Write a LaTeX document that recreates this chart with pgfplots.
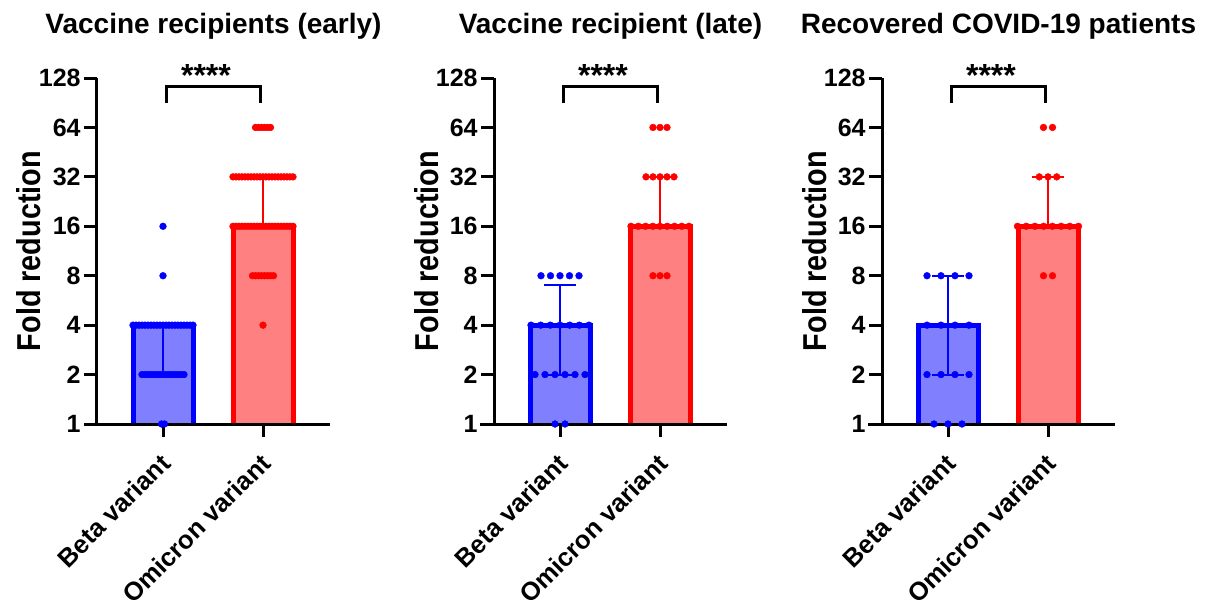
\documentclass[border=0pt]{standalone}
\usepackage{pgfplots}
\pgfplotsset{compat=1.18}
\usepackage{fontspec}
\setmainfont{Liberation Sans}
\definecolor{barblue}{RGB}{128,128,255}
\definecolor{barred}{RGB}{255,128,128}
\definecolor{dotblue}{RGB}{0,0,255}
\definecolor{dotred}{RGB}{255,0,0}
\pgfplotsset{
  foldpanel/.style={
    scale only axis, width=116.5pt, height=173pt,
    anchor=south west,
    xmin=-0.66, xmax=1.67,
    ymin=1, ymax=128,
    ytick={1,2,4,8,16,32,64,128},
    yticklabels={1,2,4,8,16,32,64,128},
    xtick={0,1}, xticklabels={Beta variant, Omicron variant},
    axis x line*=bottom, axis y line*=left,
    axis line style={line width=1.5pt, -},
    tick align=outside, major tick length=6.5pt,
    every tick/.style={line width=1.5pt, black},
    minor tick num=0,
    yticklabel style={font=\fontsize{12.5}{14}\selectfont\bfseries, inner sep=1.5pt},
    xticklabel style={font=\fontsize{12.8}{15}\selectfont\bfseries, xshift=-2pt, yshift=-6pt, rotate=45, anchor=north east, inner sep=1pt},
    ylabel={Fold reduction},
    every axis y label/.style={at={(axis description cs:0,0.5)}, xshift=-28pt, rotate=90, yscale=1.15, anchor=base, font=\fontsize{14.4}{16}\selectfont\bfseries},
    every axis title/.style={at={(axis description cs:0.5,1)}, anchor=base, yshift=22.5pt, font=\fontsize{14}{16}\selectfont\bfseries},
    clip=false,
  },
  bluebar/.style={fill=barblue, draw=dotblue, line width=2.5pt},
  redbar/.style={fill=barred, draw=dotred, line width=2.5pt},
  blueerr/.style={dotblue, line width=1pt},
  rederr/.style={dotred, line width=1pt},
  bluedots/.style={only marks, mark=*, mark size=1.7pt, dotblue, mark options={line width=0.2pt}},
  reddots/.style={only marks, mark=*, mark size=1.7pt, dotred, mark options={line width=0.2pt}},
}
\begin{document}
\begin{tikzpicture}
\useasboundingbox (0,0) rectangle (603pt,301pt);
% ---------------- Panel 1 ----------------
\begin{axis}[ymode=log, log basis y=2, foldpanel, at={(48.5pt,89pt)}, title={Vaccine recipients (early)}]
\addplot[bluebar] coordinates {(-0.30,1) (-0.30,4) (0.30,4) (0.30,1)};
\addplot[redbar] coordinates {(0.70,1) (0.70,16) (1.30,16) (1.30,1)};
\draw[line width=1.5pt] ([xshift=-6.5pt]rel axis cs:0,0) -- (rel axis cs:1,0);
\addplot[blueerr] coordinates {(0,2) (0,4)};
\addplot[blueerr] coordinates {(-0.16,2) (0.16,2)};
\addplot[rederr] coordinates {(1,16) (1,32)};
\addplot[rederr] coordinates {(0.84,32) (1.16,32)};
\addplot[bluedots] coordinates {
(0,16) (0,8)
(-0.30,4) (-0.27,4) (-0.24,4) (-0.21,4) (-0.18,4) (-0.15,4) (-0.12,4) (-0.09,4) (-0.06,4) (-0.03,4) (0,4)
(0.03,4) (0.06,4) (0.09,4) (0.12,4) (0.15,4) (0.18,4) (0.21,4) (0.24,4) (0.27,4) (0.30,4)
(-0.21,2) (-0.18,2) (-0.15,2) (-0.12,2) (-0.09,2) (-0.06,2) (-0.03,2) (0,2)
(0.03,2) (0.06,2) (0.09,2) (0.12,2) (0.15,2) (0.18,2) (0.21,2)
(-0.015,1) (0.015,1)
};
\addplot[reddots] coordinates {
(0.925,64) (0.955,64) (0.985,64) (1.015,64) (1.045,64) (1.075,64)
(0.70,32) (0.73,32) (0.76,32) (0.79,32) (0.82,32) (0.85,32) (0.88,32) (0.91,32) (0.94,32) (0.97,32) (1.00,32)
(1.03,32) (1.06,32) (1.09,32) (1.12,32) (1.15,32) (1.18,32) (1.21,32) (1.24,32) (1.27,32) (1.30,32)
(0.70,16) (0.73,16) (0.76,16) (0.79,16) (0.82,16) (0.85,16) (0.88,16) (0.91,16) (0.94,16) (0.97,16) (1.00,16)
(1.03,16) (1.06,16) (1.09,16) (1.12,16) (1.15,16) (1.18,16) (1.21,16) (1.24,16) (1.27,16) (1.30,16)
(0.895,8) (0.925,8) (0.955,8) (0.985,8) (1.015,8) (1.045,8) (1.075,8) (1.105,8)
(1,4)
};
\draw[line width=1.5pt] (axis cs:0.03,90) -- (axis cs:0.03,113) -- (axis cs:0.97,113) -- (axis cs:0.97,90);
\node[anchor=base, font=\fontsize{16}{18}\selectfont\bfseries] at (axis cs:0.43,114) {****};
\end{axis}
% ---------------- Panel 2 ----------------
\begin{axis}[ymode=log, log basis y=2, foldpanel, at={(247pt,89pt)}, title={Vaccine recipient (late)}]
\addplot[bluebar] coordinates {(-0.30,1) (-0.30,4) (0.30,4) (0.30,1)};
\addplot[redbar] coordinates {(0.70,1) (0.70,16) (1.30,16) (1.30,1)};
\draw[line width=1.5pt] ([xshift=-7pt]rel axis cs:0,0) -- (rel axis cs:1,0);
\addplot[blueerr] coordinates {(0,2) (0,7)};
\addplot[blueerr] coordinates {(-0.16,7) (0.16,7)};
\addplot[blueerr] coordinates {(-0.16,2) (0.16,2)};
\addplot[rederr] coordinates {(1,16) (1,32)};
\addplot[rederr] coordinates {(0.84,32) (1.16,32)};
\addplot[bluedots] coordinates {
(-0.19,8) (-0.095,8) (0,8) (0.095,8) (0.19,8)
(-0.29,4) (-0.193,4) (-0.097,4) (0,4) (0.097,4) (0.193,4) (0.29,4)
(-0.25,2) (-0.15,2) (-0.05,2) (0.05,2) (0.15,2) (0.25,2)
(-0.05,1) (0.05,1)
};
\addplot[reddots] coordinates {
(0.93,64) (1,64) (1.07,64)
(0.86,32) (0.93,32) (1,32) (1.07,32) (1.14,32)
(0.71,16) (0.783,16) (0.855,16) (0.928,16) (1,16) (1.072,16) (1.145,16) (1.218,16) (1.29,16)
(0.93,8) (1,8) (1.07,8)
};
\draw[line width=1.5pt] (axis cs:0.03,90) -- (axis cs:0.03,113) -- (axis cs:0.97,113) -- (axis cs:0.97,90);
\node[anchor=base, font=\fontsize{16}{18}\selectfont\bfseries] at (axis cs:0.43,114) {****};
\end{axis}
% ---------------- Panel 3 ----------------
\begin{axis}[ymode=log, log basis y=2, foldpanel, at={(441pt,89pt)}, title={Recovered COVID-19 patients}]
\addplot[bluebar] coordinates {(-0.30,1) (-0.30,4) (0.30,4) (0.30,1)};
\addplot[redbar] coordinates {(0.70,1) (0.70,16) (1.30,16) (1.30,1)};
\draw[line width=1.5pt] ([xshift=-7pt]rel axis cs:0,0) -- (rel axis cs:1,0);
\addplot[blueerr] coordinates {(0,2) (0,8)};
\addplot[blueerr] coordinates {(-0.16,8) (0.16,8)};
\addplot[blueerr] coordinates {(-0.16,2) (0.16,2)};
\addplot[rederr] coordinates {(1,16) (1,32)};
\addplot[rederr] coordinates {(0.84,32) (1.16,32)};
\addplot[bluedots] coordinates {
(-0.21,8) (-0.07,8) (0.07,8) (0.21,8)
(-0.21,4) (-0.07,4) (0.07,4) (0.21,4)
(-0.21,2) (-0.07,2) (0.07,2) (0.21,2)
(-0.14,1) (0,1) (0.14,1)
};
\addplot[reddots] coordinates {
(0.955,64) (1.045,64)
(0.913,32) (1,32) (1.087,32)
(0.695,16) (0.782,16) (0.869,16) (0.956,16) (1.044,16) (1.131,16) (1.218,16) (1.305,16)
(0.955,8) (1.045,8)
};
\draw[line width=1.5pt] (axis cs:0.03,90) -- (axis cs:0.03,113) -- (axis cs:0.97,113) -- (axis cs:0.97,90);
\node[anchor=base, font=\fontsize{16}{18}\selectfont\bfseries] at (axis cs:0.43,114) {****};
\end{axis}
\end{tikzpicture}
\end{document}
